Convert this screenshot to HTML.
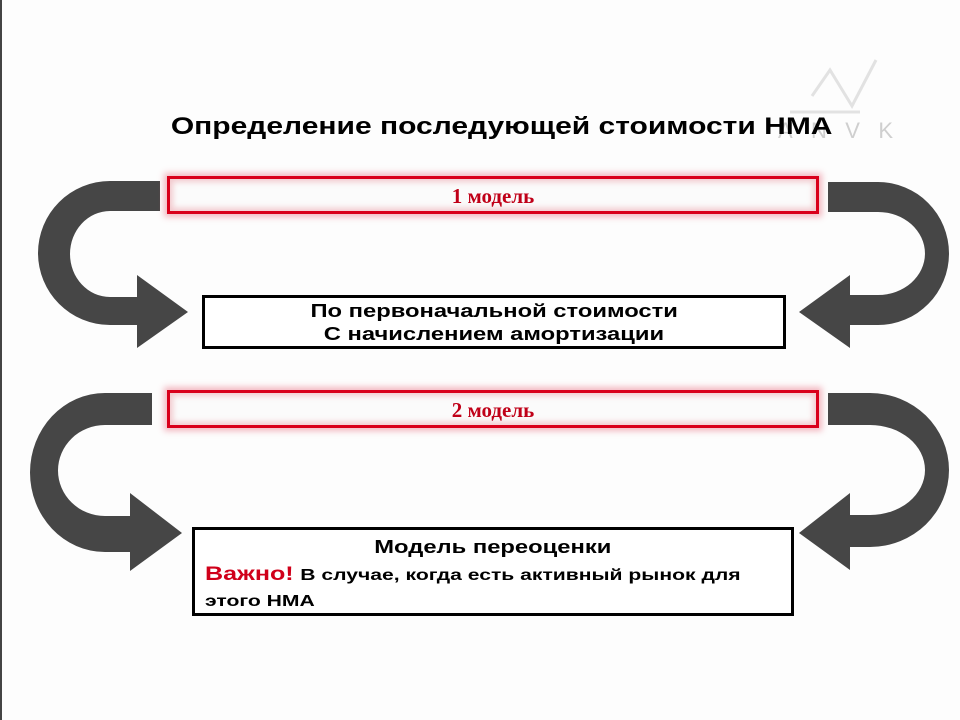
<!DOCTYPE html>
<html><head><meta charset="utf-8"><style>
html,body{margin:0;padding:0;background:#fdfdfd;width:960px;height:720px;overflow:hidden;position:relative;font-family:"Liberation Sans",sans-serif}
.s{display:inline-block;transform:scaleX(1.32);transform-origin:center;white-space:nowrap}
.t{position:absolute;left:172px;top:113px;width:660px;text-align:center;font-weight:bold;font-size:24px;color:#000;white-space:nowrap}
.r{position:absolute;box-sizing:border-box;border:3px solid #d9001b;box-shadow:0 0 6px 3px rgba(230,100,120,.45),inset 0 0 6px 3px rgba(230,130,140,.4);background:#fbfbfb;font-family:"Liberation Serif",serif;font-weight:bold;font-size:21px;color:#c00018;text-align:center}
.b{position:absolute;box-sizing:border-box;border:3px solid #000;background:#fff;font-weight:bold;font-size:18px;color:#000;text-align:center}
</style></head><body>
<div style="position:absolute;left:0;top:0;width:2px;height:720px;background:#444"></div>
<svg width="960" height="720" style="position:absolute;left:0;top:0">
<g fill="#464646">
<path d="M160 181 L110 181 A72 72 0 0 0 110 325 L137 325 L137 348 L188 312 L137 275 L137 297 L110 297 A40 43 0 0 1 110 211 L160 211 Z"/>
<path d="M152 393 L105 393 A75 79.5 0 0 0 105 552 L130 552 L130 571 L182 533 L130 493 L130 516 L105 516 A47 45.5 0 0 1 105 425 L152 425 Z"/>
<path d="M828 182 L878 182 A71 71.5 0 0 1 878 325 L850 325 L850 348 L799 312 L850 275 L850 295 L878 295 A47 41.5 0 0 0 878 212 L828 212 Z"/>
<path d="M828 393 L870 393 A79 77 0 0 1 870 547 L850 547 L850 570 L799 533 L850 493 L850 515 L870 515 A55 45 0 0 0 870 425 L828 425 Z"/>
</g>
<g stroke="#e2e2e2" stroke-width="3" fill="none">
<path d="M812 96 L830 70 L852 106 L876 60"/>
<path d="M790 112 L860 112"/>
</g>
<text x="778" y="138" font-family="Liberation Sans" font-size="22" fill="#cfcfcf" textLength="115">ANVK</text>
</svg>
<div class="t"><span class="s" style="transform:scaleX(1.25)">Определение последующей стоимости НМА</span></div>
<div class="r" style="left:167px;top:176px;width:652px;height:38px;line-height:34px">1 модель</div>
<div class="b" style="left:202px;top:295px;width:584px;height:54px;line-height:23px;padding-top:2px"><span class="s">По первоначальной стоимости</span><br><span class="s">С начислением амортизации</span></div>
<div class="r" style="left:167px;top:390px;width:652px;height:38px;line-height:34px">2 модель</div>
<div class="b" style="left:192px;top:527px;width:602px;height:89px;line-height:24px;padding-top:5px"><span class="s">Модель переоценки</span>
<div style="position:absolute;left:10px;top:32px;white-space:nowrap;text-align:left;line-height:24px"><span style="display:inline-block;transform:scaleX(1.32);transform-origin:left"><span style="color:#d0001a;font-size:19px">Важно!</span> <span style="font-size:16px">В случае, когда есть активный рынок для</span></span><br><span style="display:inline-block;transform:scaleX(1.32);transform-origin:left;font-size:16px">этого НМА</span></div></div>
</body></html>
